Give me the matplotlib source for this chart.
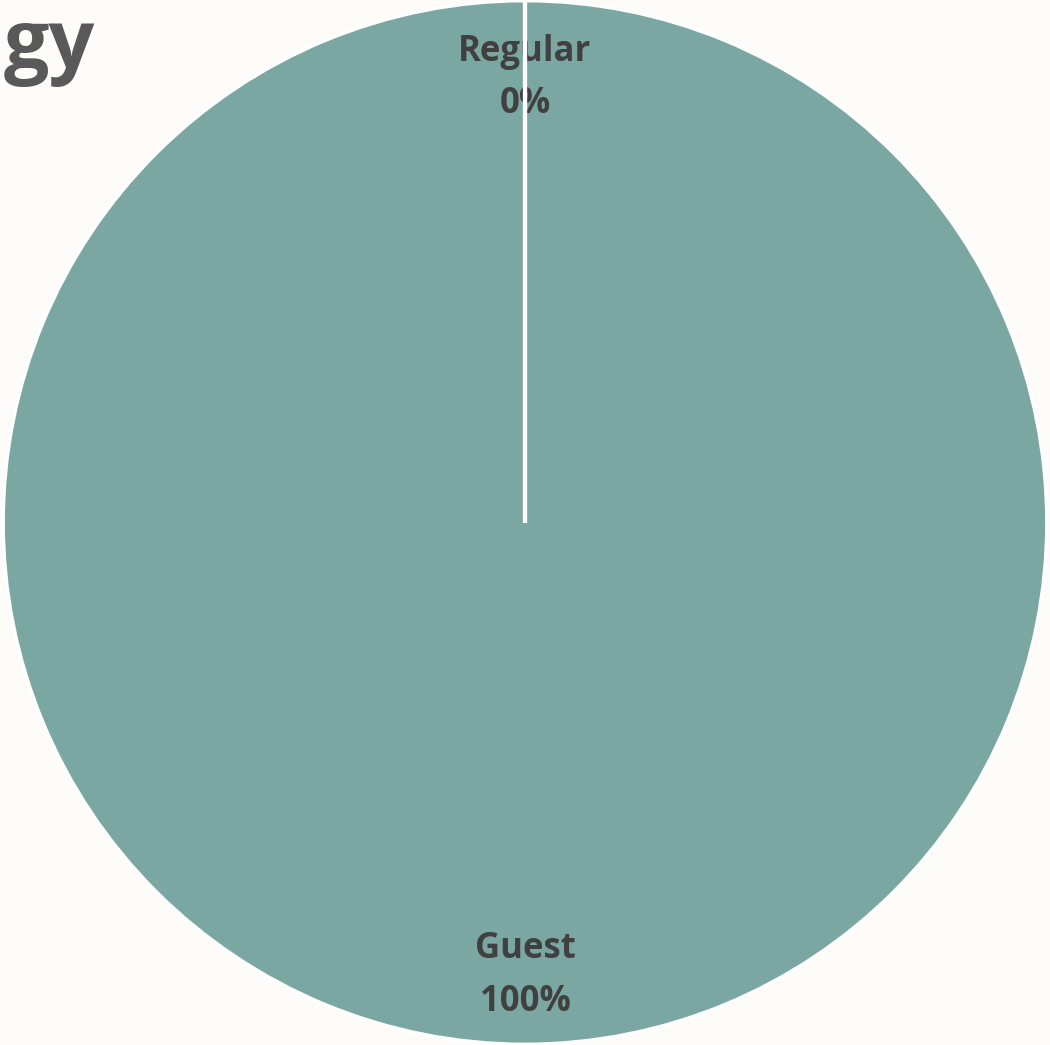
import numpy as np
import matplotlib
matplotlib.use("Agg")
import matplotlib.pyplot as plt

# data
categories = ["Regular", "Guest"]
shares = [0, 100]
title_visible = "gy"

bg = "#fdfcf8"
slice_color = "#7ba7a3"
text_color = "#404040"

fig = plt.figure(figsize=(10.5, 10.45), dpi=100, facecolor=bg)
ax = fig.add_axes([0.003, 0.0, 0.994, 1.0])
ax.set_facecolor(bg)

labels = [f"{c}\n{v:.0f}%" for c, v in zip(categories, shares)]
wedges, texts = ax.pie(
    shares,
    labels=labels,
    colors=[slice_color, slice_color],
    startangle=90,
    counterclock=False,
    radius=1.0,
    labeldistance=0.86,
    wedgeprops=dict(edgecolor="white", linewidth=2.5),
    textprops=dict(fontsize=25, fontweight="bold", color=text_color,
                   family=["Open Sans", "DejaVu Sans"], linespacing=1.62),
)
for t in texts:
    t.set_horizontalalignment("center")
    t.set_verticalalignment("center")
# nudge the top label a little towards the centre
x0, y0 = texts[0].get_position()
texts[0].set_position((x0, y0 - 0.008))
x1, y1 = texts[1].get_position()
texts[1].set_position((x1, y1 - 0.008))

# slice borders (the zero slice collapses to a single white radial line)
total = sum(shares)
cum = np.cumsum([0] + shares)
for c in cum[:-1]:
    ang = np.deg2rad(90 - 360 * c / total)
    ax.plot([0, np.cos(ang)], [0, np.sin(ang)], color="white", lw=3,
            solid_capstyle="butt", zorder=3)

ax.set_aspect("equal")
ax.set_xlim(-1.0, 1.0)
ax.set_ylim(-1.0, 1.0)
ax.axis("off")

# title is cut off at the left edge; only its tail is visible
fig.text(0.004, 0.993, title_visible, ha="left", va="top", fontsize=58,
         fontweight="bold", color="#595959", family=["Open Sans", "DejaVu Sans"])

plt.savefig("out.png", dpi=100, facecolor=bg)
plt.close()
